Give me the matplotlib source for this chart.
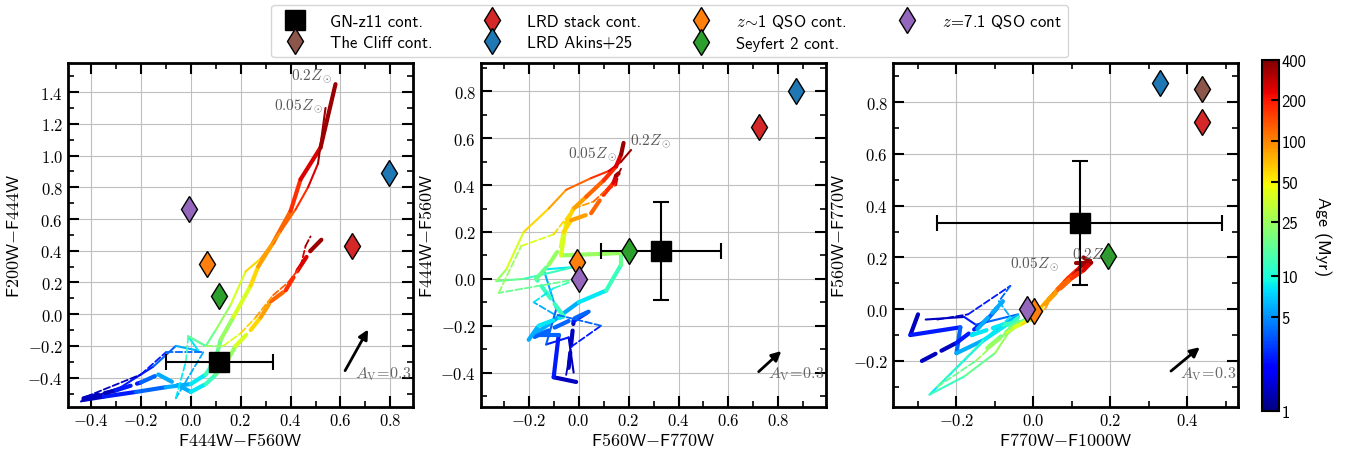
import numpy as np
import matplotlib
matplotlib.use("Agg")
import matplotlib.pyplot as plt
from matplotlib.collections import LineCollection
from matplotlib.colors import LogNorm
from matplotlib.ticker import MultipleLocator, FuncFormatter
import matplotlib.cm as cm

plt.rcParams['mathtext.fontset'] = 'cm'
plt.rcParams['font.family'] = ['cmss10', 'DejaVu Sans']
plt.rcParams['axes.unicode_minus'] = False

# ages along every model track (Myr)
ages = [1, 2, 3, 5, 7, 10, 15, 20, 30, 50, 70, 100, 150, 200, 300, 400]

# panel 1: F444W-F560W vs F200W-F444W
p1_s1_x = [-0.43, -0.35, -0.22, -0.10, 0.00, 0.06, 0.10, 0.12, 0.17, 0.24, 0.27, 0.33, 0.40, 0.44, 0.52, 0.58]
p1_s1_y = [-0.54, -0.52, -0.49, -0.46, -0.44, -0.38, -0.28, -0.16, -0.02, 0.18, 0.30, 0.45, 0.65, 0.85, 1.05, 1.45]
p1_s2_x = [-0.44, -0.28, -0.15, -0.06, 0.03, -0.01, 0.06, 0.10, 0.16, 0.22, 0.28, 0.36, 0.42, 0.47, 0.51, 0.54]
p1_s2_y = [-0.55, -0.46, -0.33, -0.20, -0.23, -0.14, -0.20, -0.10, 0.06, 0.27, 0.35, 0.52, 0.66, 0.80, 0.95, 1.30]
p1_d1_x = [-0.43, -0.30, -0.20, -0.13, 0.00, 0.06, 0.10, 0.15, 0.18, 0.24, 0.28, 0.32, 0.38, 0.43, 0.48, 0.53]
p1_d1_y = [-0.53, -0.48, -0.43, -0.38, -0.49, -0.44, -0.38, -0.28, -0.20, -0.10, -0.02, 0.08, 0.15, 0.28, 0.40, 0.48]
p1_d2_x = [-0.42, -0.20, -0.10, 0.05, -0.06, -0.02, -0.01, 0.06, 0.13, 0.20, 0.26, 0.33, 0.39, 0.44, 0.46, 0.48]
p1_d2_y = [-0.52, -0.38, -0.24, -0.24, -0.53, -0.30, -0.14, -0.20, -0.20, -0.12, -0.02, 0.12, 0.20, 0.30, 0.43, 0.49]

# panel 2: F560W-F770W vs F444W-F560W
p2_s1_x = [-0.01, -0.10, -0.08, -0.18, 0.00, 0.11, 0.17, 0.17, -0.07, -0.05, -0.02, 0.03, 0.10, 0.15, 0.17, 0.18]
p2_s1_y = [-0.44, -0.42, -0.24, -0.24, -0.10, -0.05, 0.06, 0.11, 0.10, 0.24, 0.30, 0.35, 0.42, 0.48, 0.53, 0.58]
p2_s2_x = [-0.02, -0.04, -0.13, -0.09, -0.14, -0.02, -0.22, -0.33, -0.29, -0.22, -0.12, -0.05, 0.05, 0.12, 0.17, 0.21]
p2_s2_y = [-0.40, -0.25, -0.28, -0.13, 0.04, 0.05, 0.00, -0.01, 0.04, 0.20, 0.30, 0.38, 0.43, 0.46, 0.50, 0.55]
p2_d1_x = [-0.04, -0.02, 0.04, -0.20, -0.16, -0.06, -0.17, -0.12, -0.07, -0.06, -0.03, 0.05, 0.10, 0.14, 0.15, 0.16]
p2_d1_y = [-0.38, -0.18, -0.14, -0.26, -0.20, -0.16, 0.00, 0.06, 0.14, 0.20, 0.25, 0.28, 0.36, 0.41, 0.44, 0.45]
p2_d2_x = [-0.05, -0.03, 0.09, -0.10, -0.18, -0.10, 0.00, -0.32, -0.23, -0.10, -0.02, 0.06, 0.11, 0.15, 0.16, 0.17]
p2_d2_y = [-0.41, -0.29, -0.20, -0.15, -0.10, -0.04, 0.00, -0.06, 0.14, 0.19, 0.30, 0.33, 0.38, 0.40, 0.45, 0.47]

# panel 3: F770W-F1000W vs F560W-F770W
p3_s1_x = [-0.30, -0.32, -0.19, -0.20, -0.13, -0.04, -0.06, -0.02, 0.00, 0.01, 0.04, 0.06, 0.09, 0.12, 0.14, 0.11]
p3_s1_y = [-0.02, -0.10, -0.07, -0.17, -0.12, -0.03, -0.07, -0.04, -0.04, -0.01, 0.04, 0.07, 0.12, 0.16, 0.18, 0.18]
p3_s2_x = [-0.28, -0.18, -0.15, -0.04, -0.10, -0.27, -0.18, -0.10, -0.06, -0.02, 0.02, 0.05, 0.08, 0.11, 0.13, 0.10]
p3_s2_y = [-0.04, -0.03, -0.06, -0.02, -0.08, -0.33, -0.26, -0.17, -0.08, -0.05, 0.01, 0.06, 0.11, 0.15, 0.17, 0.13]
p3_d1_x = [-0.29, -0.20, -0.12, -0.08, -0.16, -0.08, -0.04, -0.12, -0.05, -0.01, 0.03, 0.07, 0.10, 0.13, 0.15, 0.13]
p3_d1_y = [-0.20, -0.13, -0.04, 0.03, -0.10, -0.06, -0.05, -0.15, -0.07, -0.04, 0.02, 0.08, 0.12, 0.15, 0.18, 0.20]
p3_d2_x = [-0.25, -0.17, -0.06, -0.09, -0.06, -0.13, -0.25, -0.15, -0.07, -0.03, 0.03, 0.06, 0.10, 0.13, 0.15, 0.12]
p3_d2_y = [-0.04, -0.02, 0.09, 0.03, -0.03, -0.12, -0.30, -0.20, -0.09, -0.06, 0.00, 0.08, 0.13, 0.16, 0.19, 0.17]

# observed points: (x, y) per panel, None when outside the panel
gnz11 = [(0.115, -0.302), (0.331, 0.119), (0.120, 0.333)]
gnz11_xerr = [0.215, 0.24, 0.37]
gnz11_yerr = [0.0, 0.21, 0.24]
lrd_stack = [(0.645, 0.429), (0.721, 0.650), (0.438, 0.725)]
lrd_akins = [(0.795, 0.892), (0.871, 0.800), (0.328, 0.873)]
qso_z1 = [(0.065, 0.318), (-0.008, 0.073), (0.001, -0.007)]
qso_z71 = [(-0.006, 0.660), (0.001, -0.001), (-0.017, 0.002)]
seyfert2 = [(0.113, 0.114), (0.201, 0.120), (0.193, 0.205)]
cliff = [None, None, (0.438, 0.851)]

xlabels = ['F444W', 'F560W', 'F770W']
xlabels2 = ['F560W', 'F770W', 'F1000W']
ylabels = ['F200W', 'F444W', 'F560W']
ylabels2 = ['F444W', 'F560W', 'F770W']

xlims = [(-0.492, 0.891), (-0.391, 0.991), (-0.365, 0.532)]
ylims = [(-0.585, 1.583), (-0.547, 0.921), (-0.378, 0.951)]

# metallicity labels: (x, y, ha) for 0.2 and 0.05
zlab_02 = [(0.567, 1.505, 'right'), (0.207, 0.593, 'left'), (0.101, 0.214, 'left')]
zlab_005 = [(0.53, 1.316, 'right'), (0.153, 0.536, 'right'), (0.068, 0.178, 'right')]

# reddening arrows (tail, head) and label position
av_tail = [(0.613, -0.371), (0.713, -0.404), (0.352, -0.246)]
av_head = [(0.716, -0.081), (0.820, -0.300), (0.438, -0.140)]
av_text = [(0.66, -0.37), (0.76, -0.404), (0.382, -0.246)]

tracks = [
    [(p1_s1_x, p1_s1_y, '-', 3.0), (p1_s2_x, p1_s2_y, '-', 1.5),
     (p1_d1_x, p1_d1_y, '--', 3.0), (p1_d2_x, p1_d2_y, '--', 1.3)],
    [(p2_s1_x, p2_s1_y, '-', 3.0), (p2_s2_x, p2_s2_y, '-', 1.5),
     (p2_d1_x, p2_d1_y, '--', 3.0), (p2_d2_x, p2_d2_y, '--', 1.3)],
    [(p3_s1_x, p3_s1_y, '-', 3.0), (p3_s2_x, p3_s2_y, '-', 1.5),
     (p3_d1_x, p3_d1_y, '--', 3.0), (p3_d2_x, p3_d2_y, '--', 1.3)],
]

cmap = plt.get_cmap('jet')
norm = LogNorm(vmin=1, vmax=400)

fig = plt.figure(figsize=(13.5, 4.52), dpi=100)
lefts = [0.0504, 0.3563, 0.6615]
axes = [fig.add_axes([l, 0.0973, 0.2556, 0.761]) for l in lefts]

fmt = FuncFormatter(lambda v, p: r'$%.1f$' % v)
age_mid = np.sqrt(np.array(ages[:-1]) * np.array(ages[1:]))

for i, ax in enumerate(axes):
    for tx, ty, ls, lw in tracks[i]:
        pts = np.column_stack([tx, ty])
        segs = np.stack([pts[:-1], pts[1:]], axis=1)
        lc = LineCollection(segs, colors=cmap(norm(age_mid)), linewidths=lw,
                            linestyles=ls, zorder=2, capstyle='round')
        ax.add_collection(lc)

    ax.errorbar(gnz11[i][0], gnz11[i][1], xerr=gnz11_xerr[i],
                yerr=gnz11_yerr[i] if gnz11_yerr[i] > 0 else None,
                fmt='s', color='k', ms=14, capsize=6, elinewidth=1.5,
                capthick=1.5, zorder=5)
    for vals, col in [(cliff, 'tab:brown'), (lrd_stack, 'tab:red'),
                      (lrd_akins, 'tab:blue'), (qso_z1, 'tab:orange'),
                      (seyfert2, 'tab:green'), (qso_z71, 'tab:purple')]:
        if vals[i] is None:
            continue
        ax.plot(vals[i][0], vals[i][1], 'd', color=col, mec='k', mew=1.0,
                ms=13, zorder=6)

    ax.text(zlab_02[i][0], zlab_02[i][1], r'$0.2Z_\odot$', color='0.35',
            fontsize=11, ha=zlab_02[i][2], va='center', zorder=7)
    ax.text(zlab_005[i][0], zlab_005[i][1], r'$0.05Z_\odot$', color='0.35',
            fontsize=11, ha=zlab_005[i][2], va='center', zorder=7)

    ax.annotate('', xy=av_head[i], xytext=av_tail[i],
                arrowprops=dict(arrowstyle='-|>', color='k', lw=2,
                                mutation_scale=14))
    ax.text(av_text[i][0], av_text[i][1], r'$A_{\rm V}\!=\!0.3$', color='0.4',
            fontsize=11.5, ha='left', va='center')

    ax.set_xlim(*xlims[i])
    ax.set_ylim(*ylims[i])
    ax.xaxis.set_major_locator(MultipleLocator(0.2))
    ax.yaxis.set_major_locator(MultipleLocator(0.2))
    ax.xaxis.set_minor_locator(MultipleLocator(0.1))
    ax.yaxis.set_minor_locator(MultipleLocator(0.1))
    ax.xaxis.set_major_formatter(fmt)
    ax.yaxis.set_major_formatter(fmt)
    ax.tick_params(which='both', direction='in', top=True, right=True, labelsize=12)
    ax.tick_params(which='major', length=8, width=1.5)
    ax.tick_params(which='minor', length=4, width=1.2)
    ax.grid(True, which='major', color='0.75', lw=0.8, zorder=0)
    ax.set_axisbelow(True)
    for sp in ax.spines.values():
        sp.set_linewidth(2)
    ax.set_xlabel(r'$\mathsf{%s}{-}\mathsf{%s}$' % (xlabels[i], xlabels2[i]), fontsize=13, labelpad=2)
    ax.set_ylabel(r'$\mathsf{%s}{-}\mathsf{%s}$' % (ylabels[i], ylabels2[i]), fontsize=13, labelpad=4)

# legend
handles = []
h_gn, = axes[0].plot([], [], 's', color='k', ms=14)
handles.append((h_gn, 'GN-z11 cont.'))
for col, lab in [('tab:brown', 'The Cliff cont.'), ('tab:red', 'LRD stack cont.'),
                 ('tab:blue', 'LRD Akins+25'), ('tab:orange', r'$z\!\sim\!$1 QSO cont.'),
                 ('tab:green', 'Seyfert 2 cont.'), ('tab:purple', r'$z\!=\!$7.1 QSO cont')]:
    h, = axes[0].plot([], [], 'd', color=col, mec='k', mew=1.0, ms=13)
    handles.append((h, lab))
fig.legend([h for h, l in handles], [l for h, l in handles], loc='upper center',
           bbox_to_anchor=(0.496, 1.005), ncol=4, fontsize=12, frameon=True,
           columnspacing=2.6, handletextpad=1.1, borderpad=0.4, labelspacing=0.35)

# colorbar
cax = fig.add_axes([0.9345, 0.0885, 0.0126, 0.777])
sm = cm.ScalarMappable(norm=norm, cmap=cmap)
cb = fig.colorbar(sm, cax=cax)
cb.set_ticks([1, 5, 10, 25, 50, 100, 200, 400])
cb.set_ticklabels(['1', '5', '10', '25', '50', '100', '200', '400'])
cb.minorticks_off()
cax.tick_params(direction='in', length=6, width=1.5, labelsize=12, pad=2)
cb.outline.set_linewidth(1.5)
cb.set_label('Age (Myr)', rotation=270, fontsize=13, labelpad=18)

fig.savefig('out.png', dpi=100)
